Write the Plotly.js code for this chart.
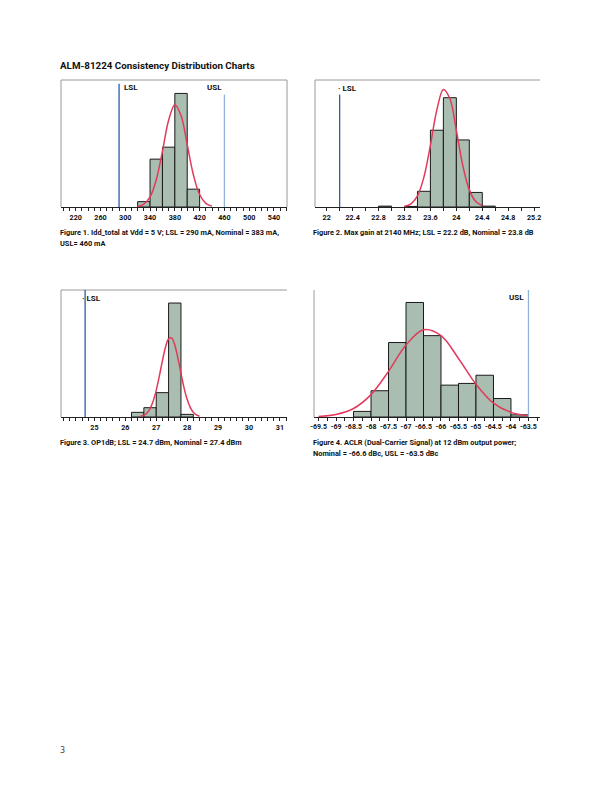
<!DOCTYPE html>
<html>
<head>
<meta charset="utf-8">
<script src="https://cdn.plot.ly/plotly-3.0.1.min.js"></script>
<style>html,body{margin:0;padding:0;background:#fff;}#chart{width:612px;height:792px;}</style>
</head>
<body>
<div id="chart"></div>
<script>
// ---------- Data ----------
// Figure 1: Idd_total (mA), bin width 20, heights in % of units
const idd_binStart = [320, 340, 360, 380, 400];
const idd_pct      = [2.2, 19.6, 24.5, 46.5, 7.3];
const idd_fitX     = [320, 330, 340, 350, 360, 370, 380, 390, 400, 410, 420, 430, 440];
const idd_fitY     = [0.24, 1.15, 4.1, 11.1, 22.8, 35.5, 41.9, 37.5, 25.5, 13.1, 5.1, 1.5, 0.35];
const idd_LSL = 290, idd_USL = 460;
const idd_ticks = [220, 260, 300, 340, 380, 420, 460, 500, 540];

// Figure 2: Max gain (dB), bin width 0.2
const gain_binStart = [22.8, 23.2, 23.4, 23.6, 23.8, 24.0, 24.2, 24.4];
const gain_pct      = [0.3, 0.2, 5.5, 26.9, 38.3, 23.5, 5.1, 0.3];
const gain_fitX     = [23.2, 23.3, 23.4, 23.5, 23.6, 23.7, 23.8, 23.9, 24.0, 24.1, 24.2, 24.3, 24.4];
const gain_fitY     = [0.24, 1.1, 3.9, 10.5, 21.6, 34.1, 41.2, 38.0, 26.8, 14.5, 6.0, 1.9, 0.46];
const gain_LSL = 22.2;
const gain_ticks = [22, 22.4, 22.8, 23.2, 23.6, 24, 24.4, 24.8, 25.2];

// Figure 3: OP1dB (dBm), bin width 0.4
const op1_binStart = [26.2, 26.6, 27.0, 27.4, 27.8];
const op1_pct      = [3.0, 6.0, 15.7, 73.5, 1.7];
const op1_fitX     = [26.5, 26.6, 26.7, 26.8, 26.9, 27.0, 27.1, 27.2, 27.3, 27.4, 27.5, 27.6, 27.7, 27.8, 27.9, 28.0, 28.1, 28.2, 28.3, 28.4];
const op1_fitY     = [0.44, 1.12, 2.6, 5.4, 10.2, 17.2, 26.3, 36.2, 45.0, 50.4, 50.9, 46.4, 38.1, 28.2, 18.8, 11.4, 6.2, 3.0, 1.3, 0.53];
const op1_LSL = 24.7;
const op1_ticks = [25, 26, 27, 28, 29, 30, 31];

// Figure 4: ACLR (dBc), bin width 0.5
const aclr_binStart = [-68.5, -68.0, -67.5, -67.0, -66.5, -66.0, -65.5, -65.0, -64.5, -64.0];
const aclr_pct      = [1.3, 6.1, 17.3, 26.6, 18.9, 7.4, 7.8, 9.7, 4.3, 0.5];
const aclr_fitX     = [-69.5, -69.0, -68.5, -68.0, -67.5, -67.0, -66.5, -66.0, -65.5, -65.0, -64.5, -64.0, -63.5];
const aclr_fitY     = [0.13, 0.58, 1.97, 5.2, 10.6, 16.7, 20.25, 18.9, 13.6, 7.6, 3.2, 1.07, 0.27];
const aclr_USL = -63.5;
const aclr_ticks = [-69.5, -69, -68.5, -68, -67.5, -67, -66.5, -66, -65.5, -65, -64.5, -64, -63.5];

// ---------- Styling ----------
const W = 612, H = 792;
const FONT = 'Roboto, "Liberation Sans", sans-serif';
const BAR = '#a9bdb1', BAR_LINE = '#1a1a1a', FIT = '#e23a5a';
const LSL_C = '#2f5aa8', USL_C = '#8fb4da', FRAME = '#9a9a9a';
const px = v => v / W;
const py = v => 1 - v / H;

const panels = [
  {bs: idd_binStart, h: idd_pct, bw: 20, fx: idd_fitX, fy: idd_fitY, ticks: idd_ticks, minor: 10, fs: 7.2,
   xr: [196.3, 561], yr: [0, 52], box: [61, 287, 80, 207]},
  {bs: gain_binStart, h: gain_pct, bw: 0.2, fx: gain_fitX, fy: gain_fitY, ticks: gain_ticks, minor: 0.2, fs: 7.2,
   xr: [21.82, 25.29], yr: [0, 44.5], box: [315, 540, 80, 207]},
  {bs: op1_binStart, h: op1_pct, bw: 0.4, fx: op1_fitX, fy: op1_fitY, ticks: op1_ticks, minor: 0.2, fs: 7.2,
   xr: [23.92, 31.23], yr: [0, 81.9], box: [61, 287, 290, 417]},
  {bs: aclr_binStart, h: aclr_pct, bw: 0.5, fx: aclr_fitX, fy: aclr_fitY, ticks: aclr_ticks, minor: 0.25, fs: 7,
   xr: [-69.63, -63.17], yr: [0, 29.5], box: [314, 540, 290, 417]}
];

const data = [];
const layout = {
  width: W, height: H, margin: {l: 0, r: 0, t: 0, b: 0},
  paper_bgcolor: '#fff', plot_bgcolor: '#fff', showlegend: false,
  bargap: 0, shapes: [], annotations: [],
  font: {family: FONT, color: '#222'}
};

panels.forEach((p, i) => {
  const n = i + 1, xa = 'x' + (n === 1 ? '' : n), ya = 'y' + (n === 1 ? '' : n);
  data.push({type: 'bar', x: p.bs, y: p.h, width: p.bw, offset: 0, xaxis: xa, yaxis: ya,
    marker: {color: BAR, line: {color: BAR_LINE, width: 1}}, hoverinfo: 'skip'});
  data.push({type: 'scatter', mode: 'lines', x: p.fx, y: p.fy, xaxis: xa, yaxis: ya,
    line: {color: FIT, width: 1.5, shape: 'spline', smoothing: 1}, hoverinfo: 'skip'});
  const [l, r, t, b] = p.box;
  layout['xaxis' + (n === 1 ? '' : n)] = {
    domain: [px(l), px(r)], range: p.xr, anchor: ya,
    showgrid: false, zeroline: false, showline: true, linecolor: '#222', linewidth: 1,
    ticks: 'outside', ticklen: 3, tickcolor: '#222', tickwidth: 1, tickangle: 0,
    tickmode: 'array', tickvals: p.ticks, ticktext: p.ticks.map(String),
    tickfont: {family: FONT, size: p.fs, color: '#111', weight: 'bold'},
    minor: {dtick: p.minor, tick0: p.ticks[0], ticks: 'outside', ticklen: 3, tickcolor: '#222', showgrid: false}
  };
  layout['yaxis' + (n === 1 ? '' : n)] = {
    domain: [py(b), py(t)], range: p.yr, anchor: xa,
    showgrid: false, zeroline: false, showline: false, showticklabels: false, ticks: ''
  };
});

// frames (left, top, right as in reference)
function frameLine(n, x0, y0, x1, y1) {
  const s = n === 1 ? '' : n;
  layout.shapes.push({type: 'line', xref: 'x' + s + ' domain', yref: 'y' + s + ' domain',
    x0: x0, y0: y0, x1: x1, y1: y1, line: {color: FRAME, width: 1}});
}
frameLine(1, 0, 0, 0, 1); frameLine(1, 0, 1, 1, 1); frameLine(1, 1, 0, 1, 1);
frameLine(2, 0, 0, 0, 1); frameLine(2, 0, 1, 1, 1);
frameLine(3, 0, 0, 0, 1); frameLine(3, 0, 1, 1, 1);
frameLine(4, 0, 0, 0, 1);

// spec limit lines
function limLine(n, xv, top, color) {
  const s = n === 1 ? '' : n;
  layout.shapes.push({type: 'line', xref: 'x' + s, yref: 'y' + s + ' domain',
    x0: xv, x1: xv, y0: 0, y1: top, line: {color: color, width: 1.3}});
}
limLine(1, idd_LSL, 0.97, LSL_C);
limLine(1, idd_USL, 0.885, USL_C);
limLine(2, gain_LSL, 0.885, LSL_C);
limLine(3, op1_LSL, 1, LSL_C);
limLine(4, aclr_USL, 1, USL_C);

function ann(text, x, y, size, opts) {
  layout.annotations.push(Object.assign({
    text: text, xref: 'paper', yref: 'paper', x: px(x), y: py(y),
    xanchor: 'left', yanchor: 'middle', showarrow: false,
    font: {family: FONT, size: size, color: '#111', weight: 'bold'}
  }, opts || {}));
}
// limit labels
ann('LSL', 122, 87, 8);
ann('USL', 223.5, 87, 8, {xanchor: 'right'});
ann('· LSL', 336, 88, 8);
ann('· LSL', 80, 298, 8);
ann('USL', 526, 297, 8, {xanchor: 'right'});

// title and captions
ann('ALM-81224 Consistency Distribution Charts', 58, 65, 9.8);
ann('Figure 1. Idd_total at Vdd = 5 V; LSL = 290 mA, Nominal = 383 mA,', 58, 232, 7.4);
ann('USL= 460 mA', 58, 243, 7.4);
ann('Figure 2. Max gain at 2140 MHz; LSL = 22.2 dB, Nominal = 23.8 dB', 311, 232, 7.4);
ann('Figure 3. OP1dB; LSL = 24.7 dBm, Nominal = 27.4 dBm', 58, 442, 7.4);
ann('Figure 4. ACLR (Dual-Carrier Signal) at 12 dBm output power;', 311, 442, 7.4);
ann('Nominal = -66.6 dBc, USL = -63.5 dBc', 311, 453, 7.4);
ann('3', 58, 750, 8, {font: {family: '"DejaVu Sans", sans-serif', size: 8, color: '#444'}});

Plotly.newPlot('chart', data, layout, {staticPlot: true, displayModeBar: false});
</script>
</body>
</html>
